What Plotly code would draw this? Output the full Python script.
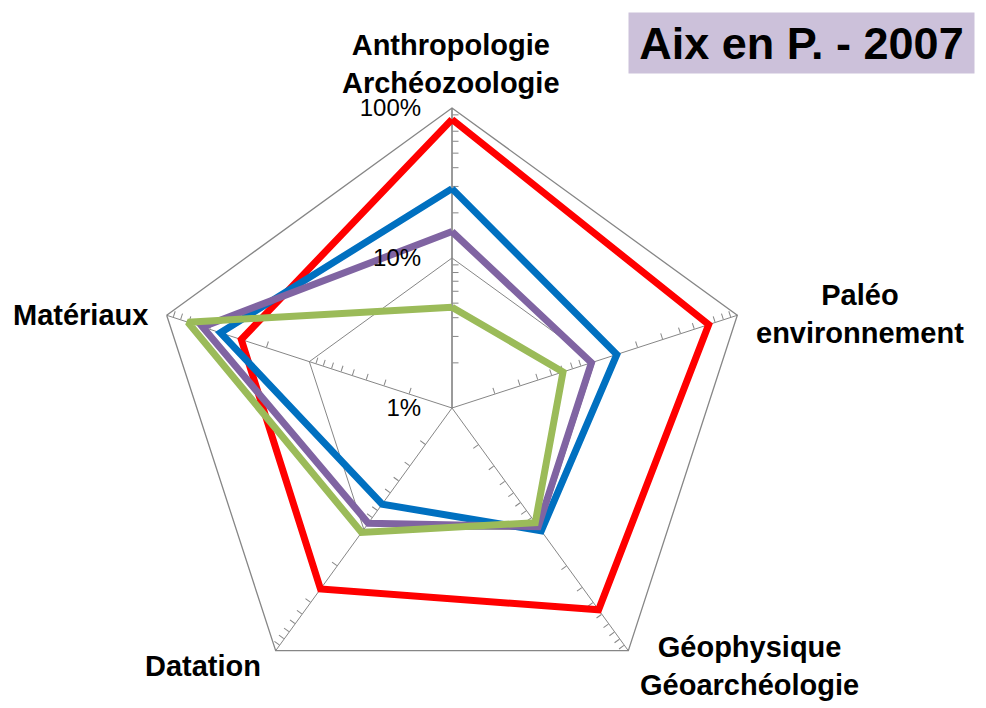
import plotly.graph_objects as go

# Categories in clockwise order starting at the top
categories = [
    "Anthropologie<br>Archéozoologie",
    "Paléo<br>environnement",
    "Géophysique<br>Géoarchéologie",
    "Datation",
    "Matériaux",
]

# Values in percent (log scale 1% - 100%)
red_values = [84, 63, 46, 31, 30]
blue_values = [29, 14.3, 10.3, 6.2, 42]
purple_values = [15, 9.5, 9.5, 8.9, 56]
green_values = [4.7, 6.0, 8.8, 10.6, 71]

radial_tickvals = [1, 10, 100]
radial_ticktext = ["1%", "10%", "100%"]

TITLE = "Aix en P. - 2007"
GRID_COLOR = "#868686"
FONT = "Liberation Sans, Arial, sans-serif"

DOMAIN_X = [144 / 986, 744 / 986]
DOMAIN_Y = [8 / 708, 608 / 708]

# page body has an 8px margin, so place things 8px up/left of target
OFF = 8

# where the category names sit (pixels from top-left, centre of the text block)
label_pos = [
    (451, 64, "center"),
    (860, 314, "center"),
    (749, 666, "center"),
    (263, 666, "right"),
    (150, 315, "right"),
]


def _closed(values):
    return list(values) + [values[0]]


def _add_series(fig, name, values, color):
    fig.add_trace(go.Scatterpolar(
        r=_closed(values),
        theta=_closed(categories),
        mode="lines",
        name=name,
        line=dict(color=color, width=7),
        subplot="polar7",
    ))


fig = go.Figure()

# empty traces so that the grid, tick and label overlays get drawn
for sub in ["polar", "polar2", "polar3", "polar4", "polar5", "polar6", "polar8"]:
    fig.add_trace(go.Scatterpolar(r=[], theta=[], mode="lines", subplot=sub, hoverinfo="skip"))

_add_series(fig, "Série 1", red_values, "#FF0000")
_add_series(fig, "Série 2", blue_values, "#0070C0")
_add_series(fig, "Série 3", purple_values, "#8064A2")
_add_series(fig, "Série 4", green_values, "#9BBB59")

minor_ticks = [m * 10 ** d for d in (0, 1) for m in range(2, 10)]

angular_common = dict(
    type="category",
    categoryarray=categories,
    rotation=90,
    direction="clockwise",
)
angular_hidden = dict(**angular_common, showline=False, showgrid=False,
                      showticklabels=False, ticks="")

layout = dict(
    width=986,
    height=708,
    margin=dict(l=0, r=0, t=0, b=0),
    paper_bgcolor="white",
    showlegend=False,
    font=dict(family=FONT, color="black"),
    polar=dict(
        domain=dict(x=DOMAIN_X, y=DOMAIN_Y),
        gridshape="linear",
        bgcolor="rgba(0,0,0,0)",
        radialaxis=dict(
            type="log",
            range=[0, 2],
            angle=90,
            tickvals=radial_tickvals,
            showticklabels=False,
            ticks="",
            showline=True,
            linecolor=GRID_COLOR,
            linewidth=1.3,
            gridcolor=GRID_COLOR,
            gridwidth=1.3,
        ),
        angularaxis=dict(
            **angular_common,
            showline=True,
            linecolor=GRID_COLOR,
            linewidth=1.3,
            gridcolor=GRID_COLOR,
            gridwidth=1.3,
            ticks="",
            showticklabels=False,
        ),
    ),
)

# One overlay per spoke to carry the minor log ticks
for i in range(5):
    layout["polar%d" % (i + 2)] = dict(
        domain=dict(x=DOMAIN_X, y=DOMAIN_Y),
        gridshape="linear",
        bgcolor="rgba(0,0,0,0)",
        radialaxis=dict(
            type="log",
            range=[0, 2],
            angle=90 - 72 * i,
            side="counterclockwise" if i == 1 else "clockwise",
            tickvals=minor_ticks,
            showticklabels=False,
            ticks="outside",
            ticklen=6,
            tickwidth=1.3,
            tickcolor=GRID_COLOR,
            showline=False,
            showgrid=False,
        ),
        angularaxis=angular_hidden,
    )

# data lines
layout["polar7"] = dict(
    domain=dict(x=DOMAIN_X, y=DOMAIN_Y),
    gridshape="linear",
    bgcolor="rgba(0,0,0,0)",
    radialaxis=dict(type="log", range=[0, 2], visible=False),
    angularaxis=dict(**angular_common, visible=False),
)

# percent labels on top of everything
layout["polar8"] = dict(
    domain=dict(x=DOMAIN_X, y=DOMAIN_Y),
    gridshape="linear",
    bgcolor="rgba(0,0,0,0)",
    radialaxis=dict(
        type="log",
        range=[0, 2],
        angle=90,
        side="counterclockwise",
        tickangle=90,
        tickvals=radial_tickvals,
        ticktext=radial_ticktext,
        tickfont=dict(size=24, family=FONT),
        # invisible ticks just to push the labels away from the spoke
        ticks="outside",
        ticklen=22,
        tickcolor="rgba(0,0,0,0)",
        showline=False,
        showgrid=False,
    ),
    angularaxis=angular_hidden,
)

fig.update_layout(**layout)

for name, (px, py, anchor) in zip(categories, label_pos):
    fig.add_annotation(
        text="<b>%s</b>" % name,
        xref="paper", yref="paper",
        x=(px - OFF) / 986, y=1 - (py - OFF) / 708,
        xanchor=anchor, yanchor="middle",
        align="center",
        showarrow=False,
        font=dict(size=29, family=FONT, color="black"),
    )

fig.add_annotation(
    text="<b>%s</b>" % TITLE,
    xref="paper", yref="paper",
    x=(975 - OFF) / 986, y=1 - (12 - OFF) / 708,
    xanchor="right", yanchor="top",
    width=337, height=52,
    align="center",
    showarrow=False,
    bgcolor="#CCC1DA",
    borderpad=4,
    font=dict(size=45, family=FONT, color="black"),
)

fig.write_html("out.html")
